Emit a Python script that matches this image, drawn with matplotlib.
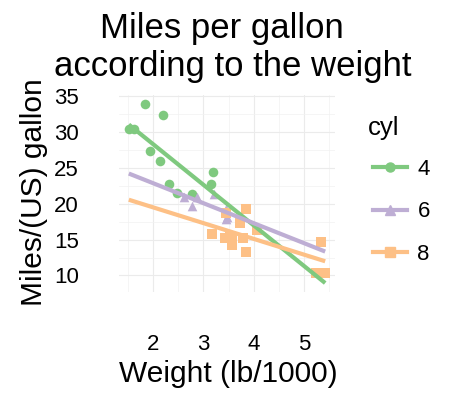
import numpy as np
import matplotlib
matplotlib.use("Agg")
import matplotlib.pyplot as plt
from matplotlib.lines import Line2D

plt.rcParams["font.family"] = ["Liberation Sans", "DejaVu Sans"]

# mtcars: weight (1000 lb), mpg, cylinders
wt = [2.620, 2.875, 2.320, 3.215, 3.440, 3.460, 3.570, 3.190, 3.150, 3.440,
      3.440, 4.070, 3.730, 3.780, 5.250, 5.424, 5.345, 2.200, 1.615, 1.835,
      2.465, 3.520, 3.435, 3.840, 3.845, 1.935, 2.140, 1.513, 3.170, 2.770,
      3.570, 2.780]
mpg = [21.0, 21.0, 22.8, 21.4, 18.7, 18.1, 14.3, 24.4, 22.8, 19.2,
       17.8, 16.4, 17.3, 15.2, 10.4, 10.4, 14.7, 32.4, 30.4, 33.9,
       21.5, 15.5, 15.2, 13.3, 19.2, 27.3, 26.0, 30.4, 15.8, 19.7,
       15.0, 21.4]
cyl = [6, 6, 4, 6, 8, 6, 8, 4, 4, 6,
       6, 8, 8, 8, 8, 8, 8, 4, 4, 4,
       4, 8, 8, 8, 8, 4, 4, 4, 8, 6,
       8, 4]
groups = [4, 6, 8]
colors = ["#7FC97F", "#BEAED4", "#FDC086"]
markers = ["o", "^", "s"]

wt = np.array(wt)
mpg = np.array(mpg)
cyl = np.array(cyl)

fig = plt.figure(figsize=(4.74, 4.03), dpi=100)
ax = fig.add_axes([119 / 474, 1 - 292 / 403, 216 / 474, 197 / 403])

xs = np.array([wt.min(), wt.max()])
fits = []
for g, c, m in zip(groups, colors, markers):
    sel = cyl == g
    ax.scatter(wt[sel], mpg[sel], s=48, color=c, marker=m, linewidths=0, zorder=3)
    k, b = np.polyfit(wt[sel], mpg[sel], 1)
    fits.append(k * xs + b)
for f, c in zip(fits, colors):
    ax.plot(xs, f, color=c, lw=3, solid_capstyle="butt", zorder=4)

# ggplot-like 5% expansion
xr = wt.max() - wt.min()
ax.set_xlim(wt.min() - 0.05 * xr, wt.max() + 0.05 * xr)
ylo = min(mpg.min(), min(f.min() for f in fits))
yhi = max(mpg.max(), max(f.max() for f in fits))
yr = yhi - ylo
ax.set_ylim(ylo - 0.05 * yr, yhi + 0.05 * yr)

ax.set_xticks([2, 3, 4, 5])
ax.set_xticks([1.5, 2.5, 3.5, 4.5, 5.5], minor=True)
ax.set_yticks([10, 15, 20, 25, 30, 35])
ax.set_yticks([12.5, 17.5, 22.5, 27.5, 32.5], minor=True)
ax.grid(which="major", color="#EBEBEB", lw=0.8)
ax.grid(which="minor", color="#F2F2F2", lw=0.5)
ax.set_axisbelow(True)
for s in ax.spines.values():
    s.set_visible(False)
ax.tick_params(which="both", length=0)
ax.tick_params(axis="x", labelsize=16, pad=30)
ax.tick_params(axis="y", labelsize=16, pad=29)

fig.text(222 / 474, 1 - 38 / 403, "Miles per gallon", fontsize=25,
         ha="center", va="baseline")
fig.text(233 / 474, 1 - 76 / 403, "according to the weight", fontsize=25,
         ha="center", va="baseline")
fig.text(228 / 474, 1 - 382 / 403, "Weight (lb/1000)", fontsize=21.5,
         ha="center", va="baseline")
fig.text(42 / 474, 1 - 192 / 403, "Miles/(US) gallon", fontsize=21.5,
         rotation=90, rotation_mode="anchor", ha="center", va="baseline")

# legend: title placed separately so the keys can sit indented like ggplot
fig.text(368 / 474, 1 - 135 / 403, "cyl", fontsize=18.5, ha="left", va="baseline")
handles = [Line2D([], [], color=c, marker=m, markersize=6.5, lw=3)
           for c, m in zip(colors, markers)]
leg = fig.legend(handles, [str(g) for g in groups],
                 loc="upper left", bbox_to_anchor=(373 / 474, 1 - 159 / 403),
                 frameon=False, fontsize=16,
                 handlelength=1.55, handletextpad=0.45, labelspacing=0.96,
                 borderpad=0, borderaxespad=0)

fig.savefig("out.png", dpi=100)
